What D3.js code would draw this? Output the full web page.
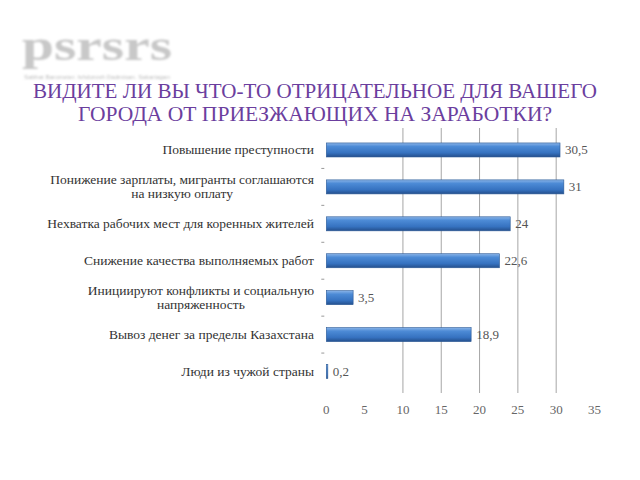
<!DOCTYPE html>
<html><head><meta charset="utf-8">
<script src="https://cdn.jsdelivr.net/npm/d3@7"></script>
<style>body{margin:0;background:#fff}svg{display:block}.sf{font-family:"Liberation Serif","Times New Roman","DejaVu Serif",serif}</style>
</head><body>
<script>
const categories = [
  ["Повышение преступности"],
  ["Понижение зарплаты, мигранты соглашаются", "на низкую оплату"],
  ["Нехватка рабочих мест для коренных жителей"],
  ["Снижение качества выполняемых работ"],
  ["Инициируют конфликты и социальную", "напряженность"],
  ["Вывоз денег за пределы Казахстана"],
  ["Люди из чужой страны"]
];
const values = [30.5, 31, 24, 22.6, 3.5, 18.9, 0.2];
const valueLabels = ["30,5", "31", "24", "22,6", "3,5", "18,9", "0,2"];
const xTicks = [0, 5, 10, 15, 20, 25, 30, 35];
const gridValues = [10, 15, 20, 25, 30];
const titleLines = ["ВИДИТЕ ЛИ ВЫ ЧТО-ТО ОТРИЦАТЕЛЬНОЕ ДЛЯ ВАШЕГО", "ГОРОДА ОТ ПРИЕЗЖАЮЩИХ НА ЗАРАБОТКИ?"];
const titleWidths = [564, 474];

const W = 640, H = 480;
const svg = d3.select("body").append("svg").attr("width", W).attr("height", H);

const defs = svg.append("defs");
const g1 = defs.append("linearGradient").attr("id", "barGrad").attr("x1", 0).attr("y1", 0).attr("x2", 0).attr("y2", 1);
g1.append("stop").attr("offset", "0%").attr("stop-color", "#8ab4e8");
g1.append("stop").attr("offset", "25%").attr("stop-color", "#4d8bd6");
g1.append("stop").attr("offset", "70%").attr("stop-color", "#3672c0");
g1.append("stop").attr("offset", "100%").attr("stop-color", "#244f8c");
defs.append("filter").attr("id", "blur").append("feGaussianBlur").attr("stdDeviation", 1.2);

// Logo (approximation)
const logo = svg.append("g").attr("filter", "url(#blur)");
logo.append("text").attr("class", "sf").attr("x", 22).attr("y", 60).attr("font-weight", "bold")
  .attr("font-size", 44).attr("fill", "#c8c8c8").attr("textLength", 150).attr("lengthAdjust", "spacingAndGlyphs")
  .text("psrsrs");
logo.append("text").attr("x", 24).attr("y", 79).style("font-family", "'Liberation Sans',sans-serif")
  .attr("font-size", 5).attr("fill", "#bbbbbb").attr("textLength", 146).attr("lengthAdjust", "spacingAndGlyphs")
  .text("Sabhat Barometer. Ishdorosh Dadmisan. Sakartagan");

// Title
svg.selectAll("text.title").data(titleLines).join("text").attr("class", "title sf")
  .attr("x", 315).attr("y", (d, i) => 98 + i * 23)
  .attr("text-anchor", "middle").attr("font-size", 20)
  .attr("textLength", (d, i) => titleWidths[i]).attr("lengthAdjust", "spacingAndGlyphs")
  .attr("fill", "#6b3e9e").text(d => d);

const x = d3.scaleLinear().domain([0, 35]).range([326.3, 594.5]);
const y = d3.scaleBand().domain(d3.range(categories.length)).range([131.5, 390]).paddingInner(0.62).paddingOuter(0.31);
const step = y.step();

// gridlines
svg.selectAll("line.grid").data(gridValues).join("line").attr("class", "grid")
  .attr("x1", d => x(d)).attr("x2", d => x(d)).attr("y1", 128).attr("y2", 393)
  .attr("stroke", "#a6a6a6").attr("stroke-width", 1);

// category ticks between rows
svg.selectAll("line.ytick").data(d3.range(1, categories.length)).join("line").attr("class", "ytick")
  .attr("x1", x(0) - 5).attr("x2", x(0) - 2)
  .attr("y1", d => y(d) - (step - y.bandwidth()) / 2).attr("y2", d => y(d) - (step - y.bandwidth()) / 2)
  .attr("stroke", "#999").attr("stroke-width", 1);

// bars
svg.selectAll("rect.bar").data(values).join("rect").attr("class", "bar")
  .attr("x", x(0)).attr("y", (d, i) => y(i))
  .attr("width", d => Math.max(1, x(d) - x(0))).attr("height", y.bandwidth())
  .attr("fill", "url(#barGrad)").attr("stroke", "#2c5a96").attr("stroke-width", 0.6);

// value labels
svg.selectAll("text.val").data(values).join("text").attr("class", "val sf")
  .attr("x", d => x(d) + 5).attr("y", (d, i) => y(i) + y.bandwidth() / 2 + 4)
  .attr("font-size", 13).attr("fill", "#555")
  .text((d, i) => valueLabels[i]);

// category labels (block right-aligned, lines centered)
const labelRight = 314;
categories.forEach((lines, i) => {
  const cy = y(i) + y.bandwidth() / 2;
  const lh = 14;
  const t = svg.append("text").attr("class", "sf").attr("font-size", 13.5).attr("fill", "#333")
    .attr("text-anchor", "middle");
  lines.forEach((l, j) => {
    t.append("tspan").attr("x", 0).attr("y", cy + 4 + (j - (lines.length - 1) / 2) * lh).text(l);
  });
  const w = t.node().getBBox().width;
  t.attr("transform", `translate(${labelRight - w / 2},0)`);
});

// x tick labels
svg.selectAll("text.xt").data(xTicks).join("text").attr("class", "xt sf")
  .attr("x", d => x(d)).attr("y", 414).attr("text-anchor", "middle")
  .attr("font-size", 13).attr("fill", "#666").text(d => d);
</script>
</body></html>
